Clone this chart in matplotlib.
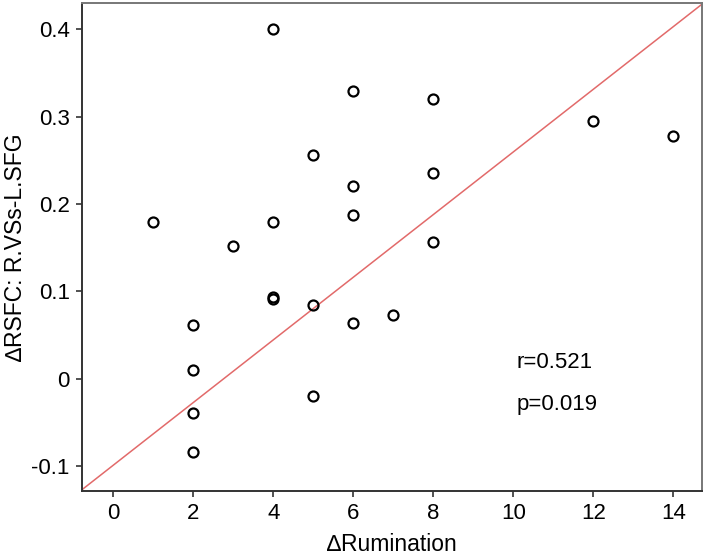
import matplotlib
matplotlib.use("Agg")
import matplotlib.pyplot as plt
import numpy as np

plt.rcParams['font.family'] = ['Liberation Sans', 'DejaVu Sans']

# Data
rumination = [1, 2, 2, 2, 2, 3, 4, 4, 4, 4, 5, 5, 5, 6, 6, 6, 6, 7, 8, 8, 8, 12, 14]
rsfc = [0.179, 0.062, 0.010, -0.039, -0.083, 0.152, 0.400, 0.179, 0.094, 0.091,
        0.256, 0.084, -0.020, 0.329, 0.221, 0.187, 0.064, 0.073, 0.320, 0.236,
        0.156, 0.295, 0.278]

# Fit line (slope, intercept) as shown
fit_slope = 0.0358
fit_intercept = -0.0985

x_ticks = [0, 2, 4, 6, 8, 10, 12, 14]
y_ticks = [-0.1, 0, 0.1, 0.2, 0.3, 0.4]
y_ticklabels = ['-0.1', '0', '0.1', '0.2', '0.3', '0.4']
xlim = (-0.775, 14.71)
ylim = (-0.1277, 0.4294)

fig = plt.figure(figsize=(7.09, 5.57), dpi=100)
ax = fig.add_axes([0.1161, 0.1190, 0.8736, 0.8751])

xl = np.array(xlim)
ax.plot(xl, fit_intercept + fit_slope * xl, color='#e26a6a', lw=1.1, zorder=1)

ax.plot(rumination, rsfc, linestyle='none', marker='o', markersize=7.2,
        markerfacecolor='none', markeredgecolor='black', markeredgewidth=1.6, zorder=3)

ax.set_xlim(*xlim)
ax.set_ylim(*ylim)
ax.set_xticks(x_ticks)
ax.set_xticklabels([str(t) for t in x_ticks])
ax.set_yticks(y_ticks)
ax.set_yticklabels(y_ticklabels)

ax.tick_params(axis='both', direction='out', length=4, width=1.2, colors='#333333',
               labelsize=16, labelcolor='black', pad=5)

for side in ['left', 'bottom']:
    ax.spines[side].set_color('#333333')
    ax.spines[side].set_linewidth(1.4)
for side in ['top', 'right']:
    ax.spines[side].set_color('#777777')
    ax.spines[side].set_linewidth(1.4)

ax.set_xlabel('\u2206Rumination', fontsize=16.5, labelpad=6)
ax.set_ylabel('\u2206RSFC: R.VSs-L.SFG', fontsize=16.5, labelpad=3)

ax.text(10.07, 0.0122, 'r=0.521', fontsize=16, va='baseline', ha='left')
ax.text(10.07, -0.0354, 'p=0.019', fontsize=16, va='baseline', ha='left')

fig.savefig('out.png', dpi=100)
